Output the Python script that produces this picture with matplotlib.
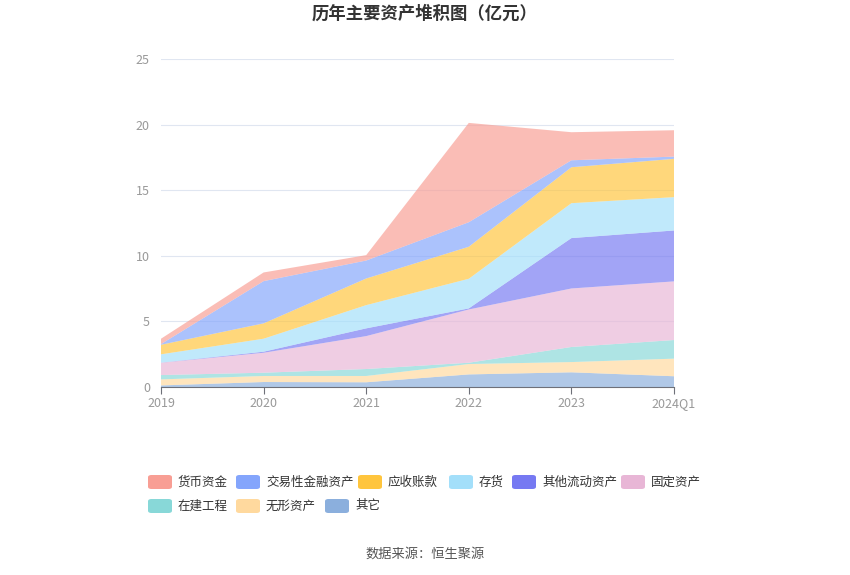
import matplotlib
matplotlib.use('Agg')
from matplotlib import pyplot as plt
from matplotlib.patches import FancyBboxPatch
import numpy as np

plt.rcParams['font.family'] = ['Noto Sans CJK SC', 'DejaVu Sans']

years = ['2019', '2020', '2021', '2022', '2023', '2024Q1']

# 从下往上堆叠
qita = [0.12, 0.38, 0.36, 0.96, 1.12, 0.82]        # 其它
wuxing = [0.46, 0.46, 0.48, 0.79, 0.78, 1.34]      # 无形资产
zaijian = [0.33, 0.25, 0.53, 0.10, 1.15, 1.42]     # 在建工程
guding = [0.94, 1.52, 2.51, 4.06, 4.46, 4.47]      # 固定资产
qitaliudong = [0.01, 0.08, 0.59, 0.08, 3.84, 3.88] # 其他流动资产
cunhuo = [0.63, 0.99, 1.77, 2.26, 2.66, 2.54]      # 存货
yingshou = [0.73, 1.17, 2.03, 2.44, 2.74, 2.92]    # 应收账款
jiaoyi = [0.05, 3.22, 1.37, 1.87, 0.53, 0.17]      # 交易性金融资产
huobi = [0.41, 0.66, 0.41, 7.57, 2.14, 2.01]       # 货币资金

names = ['其它', '无形资产', '在建工程', '固定资产', '其他流动资产',
         '存货', '应收账款', '交易性金融资产', '货币资金']
series = [qita, wuxing, zaijian, guding, qitaliudong, cunhuo, yingshou, jiaoyi, huobi]
colors = ['#8bafdd', '#ffd99e', '#88d8d8', '#e8b6d6', '#7679f2',
          '#a3dffa', '#ffc53d', '#84a5fc', '#f89e94']

fig = plt.figure(figsize=(8.5, 5.75), dpi=100)
ax = fig.add_axes([161/850, 1-387/575, 513/850, 328/575])

x = np.arange(len(years))
ax.stackplot(x, *series, colors=colors, alpha=0.68, linewidth=0)

ax.set_xlim(0, len(years)-1)
ax.set_ylim(0, 25)
ax.set_yticks([0, 5, 10, 15, 20, 25])
ax.set_xticks(x)
ax.set_xticklabels(years)
ax.grid(axis='y', color='#e0e6f1', linewidth=0.8)
ax.set_axisbelow(True)
for s in ['top', 'right', 'left']:
    ax.spines[s].set_visible(False)
ax.spines['bottom'].set_color('#6e7079')
ax.tick_params(axis='y', length=0, labelsize=9, colors='#999999', pad=8)
ax.tick_params(axis='x', length=5, color='#6e7079', labelsize=9, labelcolor='#999999', pad=2)

fig.text(0.5, 1-14/575, '历年主要资产堆积图（亿元）', ha='center', va='center',
         fontsize=12.5, fontweight='bold', color='#333333')

# 图例
legend_pos = [(148, 482), (236, 482), (358, 482), (449, 482), (512, 482), (621, 482),
              (148, 506), (236, 506), (325, 506)]
for i, (px, py) in enumerate(legend_pos):
    k = len(names) - 1 - i
    box = FancyBboxPatch((px/850, 1-(py+7)/575), 24/850, 14/575,
                         boxstyle='round,pad=0,rounding_size=0.004',
                         transform=fig.transFigure, facecolor=colors[k],
                         edgecolor='none')
    fig.patches.append(box)
    fig.text((px+30)/850, 1-py/575, names[k], ha='left', va='center',
             fontsize=9, color='#333333')

fig.text(0.5, 1-554/575, '数据来源：恒生聚源', ha='center', va='center',
         fontsize=9.5, color='#555555')

fig.savefig('out.png')
